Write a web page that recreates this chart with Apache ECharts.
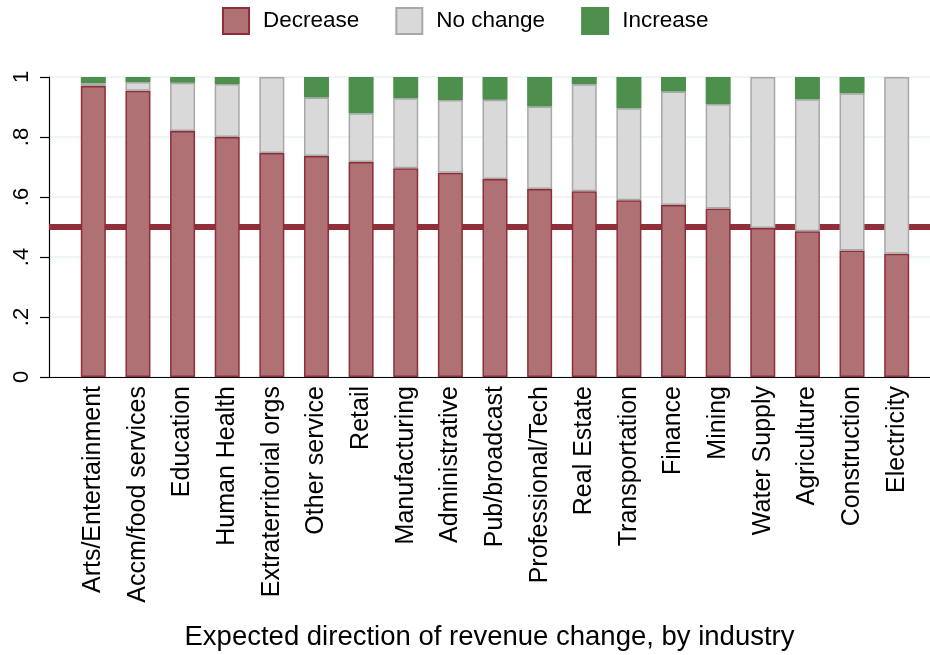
<!DOCTYPE html>
<html>
<head>
<meta charset="utf-8">
<script src="https://cdn.jsdelivr.net/npm/echarts@6/dist/echarts.min.js"></script>
<style>html,body{margin:0;padding:0;background:#fff}#c{width:930px;height:655px}</style>
</head>
<body>
<div id="c"></div>
<script>
var categories = ['Arts/Entertainment','Accm/food services','Education','Human Health','Extraterritorial orgs','Other service','Retail','Manufacturing','Administrative','Pub/broadcast','Professional/Tech','Real Estate','Transportation','Finance','Mining','Water Supply','Agriculture','Construction','Electricity'];
var decrease = [0.970,0.954,0.820,0.800,0.747,0.737,0.717,0.696,0.681,0.660,0.627,0.619,0.589,0.573,0.562,0.497,0.486,0.422,0.411];
var noChange = [0.009,0.029,0.161,0.177,0.253,0.195,0.162,0.233,0.242,0.264,0.275,0.357,0.307,0.379,0.348,0.503,0.440,0.524,0.589];
var increase = [0.021,0.017,0.019,0.023,0.000,0.068,0.121,0.071,0.077,0.076,0.098,0.024,0.104,0.048,0.090,0.000,0.074,0.054,0.000];
var yTickLabels = ['0','.2','.4','.6','.8','1'];
var refLine = 0.5;

var FONT = 'Liberation Sans, Arial, Helvetica, sans-serif';
var TOP = 77, BOTTOM = 278;
function nz(arr){ return arr.map(function(v){ return v > 0 ? v : '-'; }); }

var chart = echarts.init(document.getElementById('c'), null, {renderer:'canvas'});
chart.setOption({
  animation: false,
  backgroundColor: '#ffffff',
  textStyle: {fontFamily: FONT, color: '#000'},
  legend: {
    left: 222, top: 7, padding: 0,
    itemWidth: 26, itemHeight: 26, itemGap: 36,
    icon: 'rect',
    textStyle: {fontFamily: FONT, fontSize: 22.5, color: '#000', padding: [0,0,0,9]},
    data: ['Decrease','No change','Increase']
  },
  grid: [
    {left: 71, right: 11, top: TOP, bottom: BOTTOM, containLabel: false},
    {left: 49, right: 0, top: TOP, bottom: BOTTOM, containLabel: false}
  ],
  xAxis: [
    {
      type: 'category', gridIndex: 0, data: categories, boundaryGap: true,
      axisLine: {show: false}, axisTick: {show: false}, splitLine: {show: false},
      axisLabel: {rotate: 90, margin: 9, fontSize: 25, fontFamily: FONT, color: '#000', interval: 0}
    },
    {
      type: 'value', gridIndex: 1, min: 0, max: 1,
      name: 'Expected direction of revenue change, by industry',
      nameLocation: 'middle', nameGap: 246,
      nameTextStyle: {fontFamily: FONT, fontSize: 27.5, color: '#000'},
      axisLine: {show: true, onZero: false, lineStyle: {color: '#000', width: 1.2}},
      axisTick: {show: false}, axisLabel: {show: false}, splitLine: {show: false}
    }
  ],
  yAxis: [
    {
      type: 'value', gridIndex: 0, min: 0, max: 1, interval: 0.2,
      axisLine: {show: false}, axisTick: {show: false}, axisLabel: {show: false}, splitLine: {show: false}
    },
    {
      type: 'value', gridIndex: 1, min: 0, max: 1, interval: 0.2,
      axisLine: {show: true, onZero: false, lineStyle: {color: '#000', width: 1.2}},
      axisTick: {show: true, inside: false, length: 9, interval: 0, lineStyle: {color: '#000', width: 1.2}},
      splitLine: {show: true, lineStyle: {color: '#eaf2f3', width: 1.5}},
      axisLabel: {
        rotate: 90, margin: 16, fontSize: 22, fontFamily: FONT, color: '#000',
        formatter: function(v){ return yTickLabels[Math.round(v*5)]; }
      }
    }
  ],
  series: [
    {
      name: 'ref', type: 'line', xAxisIndex: 1, yAxisIndex: 1, data: [], z: 1, silent: true,
      markLine: {silent: true, z: 1, symbol: ['none','none'], label: {show: false},
        lineStyle: {color: '#902f39', width: 6, type: 'solid'},
        data: [{yAxis: refLine}]}
    },
    {
      name: 'Decrease', type: 'bar', stack: 't', barWidth: 25, z: 3, xAxisIndex: 0, yAxisIndex: 0,
      itemStyle: {color: '#b07174', borderColor: '#8e2e37', borderWidth: 1.5},
      data: nz(decrease)
    },
    {
      name: 'No change', type: 'bar', stack: 't', barWidth: 25, z: 3, xAxisIndex: 0, yAxisIndex: 0,
      itemStyle: {color: '#d9d9d9', borderColor: '#a8a8a8', borderWidth: 1.5},
      data: nz(noChange)
    },
    {
      name: 'Increase', type: 'bar', stack: 't', barWidth: 25, z: 3, xAxisIndex: 0, yAxisIndex: 0,
      itemStyle: {color: '#4d8f4d', borderColor: '#4d8f4d', borderWidth: 1.5},
      data: nz(increase)
    }
  ]
});
</script>
</body>
</html>
